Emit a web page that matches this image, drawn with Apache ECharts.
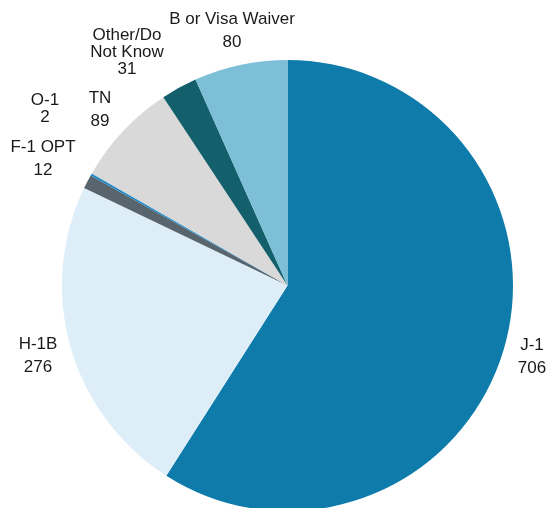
<!DOCTYPE html>
<html>
<head>
<meta charset="utf-8">
<script src="https://cdn.jsdelivr.net/npm/echarts@6/dist/echarts.min.js"></script>
<style>
  html, body { margin: 0; padding: 0; background: #fff; }
  #main { width: 548px; height: 508px; }
</style>
</head>
<body>
<div id="main"></div>
<script>
var categories = ["J-1", "H-1B", "F-1 OPT", "O-1", "TN", "Other/Do\nNot Know", "B or Visa Waiver"];
var values = [706, 276, 12, 2, 89, 31, 80];

// slice colours, in the same order
var colors = ["#0e7bab", "#ddeef9", "#59656d", "#2389c6", "#d9d9d9", "#135f6b", "#7cbfd6"];
// where each label sits (centre of the text block), in the same order
var labelPos = [[532, 357], [38, 356], [43, 159], [45, 109], [100, 110], [127, 52], [232, 31]];

var chart = echarts.init(document.getElementById("main"));

var data = categories.map(function(name, i) {
    var item = {
        name: name,
        value: values[i],
        itemStyle: { color: colors[i] }
    };
    if (i === 3 || i === 5) {
        item.label = { lineHeight: 17 };
    }
    return item;
});

chart.setOption({
    animation: false,
    series: [{
        type: "pie",
        center: [287.5, 285.5],
        radius: 225.5,
        startAngle: 90,
        clockwise: true,
        avoidLabelOverlap: false,
        data: data,
        label: {
            show: true,
            position: "outside",
            formatter: "{b}\n{c}",
            color: "#1a1a1a",
            fontFamily: "Liberation Sans, Arial, sans-serif",
            fontSize: 17,
            lineHeight: 23,
            align: "center"
        },
        labelLine: { show: false },
        labelLayout: function(params) {
            var p = labelPos[params.dataIndex];
            return { x: p[0], y: p[1], align: "center", verticalAlign: "middle" };
        },
        emphasis: { disabled: true }
    }]
});
</script>
</body>
</html>
